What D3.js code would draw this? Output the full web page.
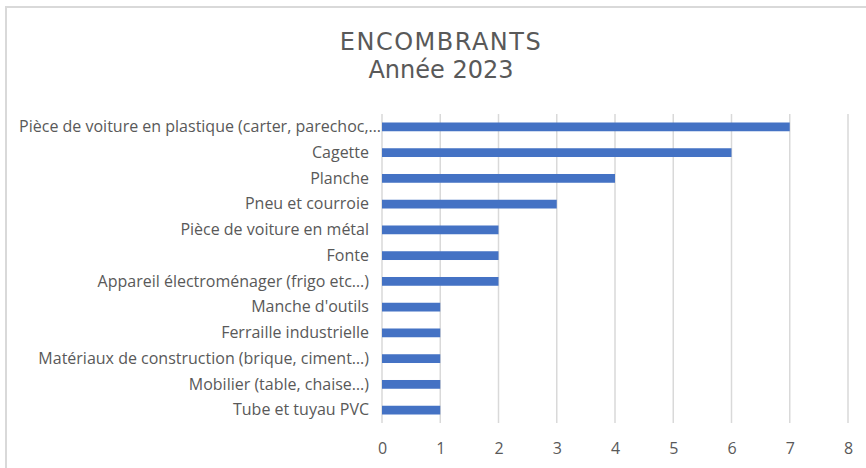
<!DOCTYPE html>
<html>
<head>
<meta charset="utf-8">
<script src="https://cdn.jsdelivr.net/npm/d3@7"></script>
<style>
html,body{margin:0;padding:0;background:#fff;}
svg{display:block;}
</style>
</head>
<body>
<svg id="chart" width="866" height="468"></svg>
<script>
const categories = [
  "Pièce de voiture en plastique (carter, parechoc,…",
  "Cagette",
  "Planche",
  "Pneu et courroie",
  "Pièce de voiture en métal",
  "Fonte",
  "Appareil électroménager (frigo etc…)",
  "Manche d'outils",
  "Ferraille industrielle",
  "Matériaux de construction (brique, ciment…)",
  "Mobilier  (table, chaise…)",
  "Tube et tuyau PVC"
];
const values = [7, 6, 4, 3, 2, 2, 2, 1, 1, 1, 1, 1];
const xTicks = [0, 1, 2, 3, 4, 5, 6, 7, 8];
const titleLines = ["ENCOMBRANTS", "Année 2023"];

(function () {
const svg = d3.select("#chart");
const font = "'Open Sans', 'Noto Sans', sans-serif";
const titleFont = "'DejaVu Sans', sans-serif";
const textColor = "#595959";

// outer frame
svg.append("rect").attr("x", 6).attr("y", 7).attr("width", 880).attr("height", 480)
  .attr("fill", "#fff").attr("stroke", "#d9d9d9").attr("stroke-width", 2);

const pLeft = 382, pRight = 848, pTop = 114, pBottom = 423;
const x = d3.scaleLinear().domain([0, 8]).range([pLeft, pRight]);
const y = d3.scaleBand().domain(categories).range([pTop, pBottom]).paddingInner(0.66).paddingOuter(0.33);

// gridlines
svg.append("g").selectAll("line").data(xTicks).join("line")
  .attr("x1", d => x(d)).attr("x2", d => x(d))
  .attr("y1", pTop).attr("y2", pBottom)
  .attr("stroke", "#d9d9d9").attr("stroke-width", 1.5);

// bars
svg.append("g").selectAll("rect").data(values).join("rect")
  .attr("x", x(0))
  .attr("y", (d, i) => y(categories[i]))
  .attr("width", d => x(d) - x(0))
  .attr("height", y.bandwidth())
  .attr("fill", "#4472C4");

// x axis labels
const xAxis = d3.axisBottom(x).tickValues(xTicks).tickSize(0).tickPadding(0).tickFormat(d3.format("d"));
const gx = svg.append("g").attr("transform", `translate(0,${pBottom + 19.5})`).call(xAxis);
gx.select(".domain").remove();
gx.selectAll("text").attr("font-family", font).attr("font-size", 16).attr("fill", textColor);

// y axis labels
const yAxis = d3.axisLeft(y).tickSize(0).tickPadding(13);
const gy = svg.append("g").attr("transform", `translate(${pLeft},0)`).call(yAxis);
gy.select(".domain").remove();
gy.selectAll("text").attr("font-family", font).attr("font-size", 16).attr("fill", textColor)
  .attr("dx", (d, i) => i === 0 ? 12 : 0);

// title
svg.append("g").selectAll("text").data(titleLines).join("text")
  .attr("x", 441).attr("y", (d, i) => 49.5 + i * 28.6)
  .attr("text-anchor", "middle")
  .attr("font-family", titleFont).attr("font-size", 24)
  .attr("letter-spacing", (d, i) => i === 0 ? 1.5 : 0)
  .attr("fill", textColor)
  .text(d => d);
})();
</script>
</body>
</html>
